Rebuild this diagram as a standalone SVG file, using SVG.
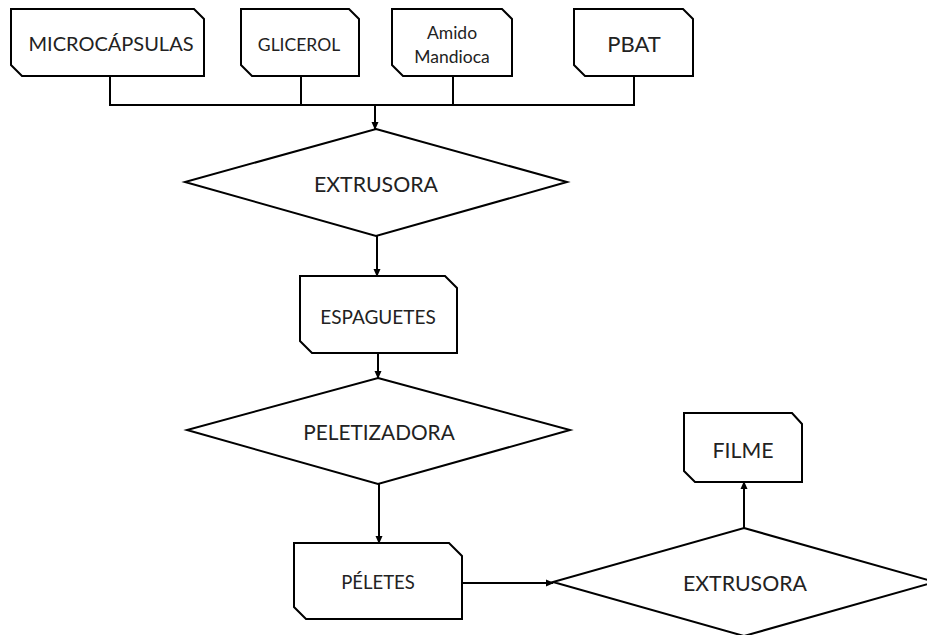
<svg xmlns="http://www.w3.org/2000/svg" width="927" height="635" viewBox="0 0 927 635">
<style>
.box{fill:#fff;stroke:#000;stroke-width:2}
.dia{fill:#fff;stroke:#000;stroke-width:2}
.ln{fill:none;stroke:#000;stroke-width:2}
text{font-family:Lato,"Liberation Sans",sans-serif;fill:#222;text-anchor:middle;dominant-baseline:central}
</style>
<defs>
<marker id="ah" markerWidth="8" markerHeight="8" refX="7" refY="4" orient="auto" markerUnits="userSpaceOnUse">
<path d="M0,0.5 L8,4 L0,7.5 Z" fill="#000"/>
</marker>
</defs>
<g id="connectors">
<polyline class="ln" points="110,76 110,105 634,105 634,76"/>
<line class="ln" x1="301" y1="76" x2="301" y2="105"/>
<line class="ln" x1="453" y1="76" x2="453" y2="105"/>
<line class="ln" x1="375" y1="105" x2="375" y2="129" marker-end="url(#ah)"/>
<line class="ln" x1="377" y1="236" x2="377" y2="276" marker-end="url(#ah)"/>
<line class="ln" x1="378" y1="353" x2="378" y2="378" marker-end="url(#ah)"/>
<line class="ln" x1="379" y1="484" x2="379" y2="543" marker-end="url(#ah)"/>
<line class="ln" x1="462" y1="583" x2="553" y2="583" marker-end="url(#ah)"/>
<line class="ln" x1="744" y1="528" x2="744" y2="482" marker-end="url(#ah)"/>
</g>
<g id="microcapsulas">
<path class="box" d="M11,9 H194 L204,19 V76 H22 L11,65 Z"/>
<text x="111" y="43" font-size="20">MICROCÁPSULAS</text>
</g>
<g id="glicerol">
<path class="box" d="M241,9 H349 L359,19 V76 H252 L241,65 Z"/>
<text x="299" y="44" font-size="17.5">GLICEROL</text>
</g>
<g id="amido">
<path class="box" d="M392,9 H502 L512,19 V76 H403 L392,65 Z"/>
<text x="452" y="32" font-size="17.5">Amido</text>
<text x="452" y="56" font-size="17.5">Mandioca</text>
</g>
<g id="pbat">
<path class="box" d="M574,9 H683 L693,19 V76 H585 L574,65 Z"/>
<text x="634" y="43" font-size="22">PBAT</text>
</g>
<g id="extrusora1">
<polygon class="dia" points="376,129 567,182 376,236 185,182"/>
<text x="376" y="184" font-size="21.3">EXTRUSORA</text>
</g>
<g id="espaguetes">
<path class="box" d="M300,276 H445 L457,288 V353 H312 L300,341 Z"/>
<text x="378" y="316" font-size="19">ESPAGUETES</text>
</g>
<g id="peletizadora">
<polygon class="dia" points="378,378 570,430 378,484 187,430"/>
<text x="379" y="431" font-size="20.8">PELETIZADORA</text>
</g>
<g id="peletes">
<path class="box" d="M294,543 H449 L462,556 V619 H306 L294,607 Z"/>
<text x="378" y="582" font-size="18.5">PÉLETES</text>
</g>
<g id="extrusora2">
<polygon class="dia" points="744,528 935,582 744,636 553,582"/>
<text x="745" y="583" font-size="21.3">EXTRUSORA</text>
</g>
<g id="filme">
<path class="box" d="M684,413 H792 L802,424 V482 H695 L684,471 Z"/>
<text x="743" y="450" font-size="21.3">FILME</text>
</g>
</svg>
